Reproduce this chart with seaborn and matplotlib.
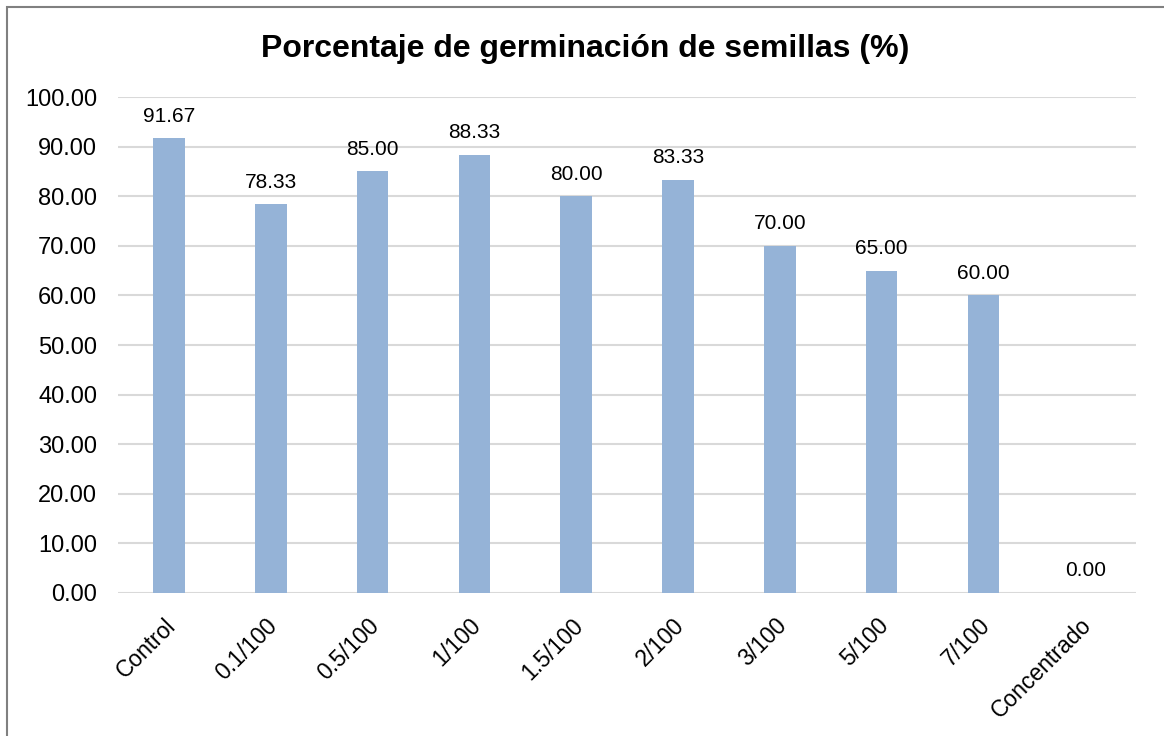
import matplotlib
matplotlib.use("Agg")
import matplotlib.pyplot as plt
import matplotlib.patches as patches
import matplotlib.transforms as mtransforms
import seaborn as sns
import pandas as pd

sns.set_style("white")
plt.rcParams["font.family"] = ["Liberation Sans", "DejaVu Sans"]
plt.rcParams["text.color"] = "black"
plt.rcParams["xtick.color"] = "black"
plt.rcParams["ytick.color"] = "black"

categories = ["Control", "0.1/100", "0.5/100", "1/100", "1.5/100", "2/100",
              "3/100", "5/100", "7/100", "Concentrado"]
germination = [91.67, 78.33, 85.00, 88.33, 80.00, 83.33, 70.00, 65.00, 60.00, 0.00]

df = pd.DataFrame({"Tratamiento": categories, "Germinacion": germination})

fig = plt.figure(figsize=(11.64, 7.36), dpi=100)
ax = fig.add_axes([0.1014, 0.1943, 0.8746, 0.6739])

sns.barplot(data=df, x="Tratamiento", y="Germinacion", color="#95B3D7",
            saturation=1, width=0.31, linewidth=0, ax=ax)

ax.set_ylim(0, 100)
ax.set_xlim(-0.5, len(categories) - 0.5)
ax.set_yticks(range(0, 101, 10))
ax.set_yticklabels([f"{v:.2f}" for v in range(0, 101, 10)], fontsize=17)
ax.yaxis.grid(True, color="#D9D9D9", linewidth=1.5)
ax.set_axisbelow(True)
for s in ["top", "right", "left", "bottom"]:
    ax.spines[s].set_visible(False)
ax.tick_params(axis="y", length=0, pad=15)
ax.set_xlabel("")
ax.set_ylabel("")

ax.set_xticks(range(len(categories)))
ax.set_xticklabels(categories, rotation=45, ha="right", va="top",
                   rotation_mode="anchor", fontsize=16.5)
ax.tick_params(axis="x", length=0, pad=15)
shift = mtransforms.ScaledTranslation(-5 / 100, 0, fig.dpi_scale_trans)
for lbl in ax.get_xticklabels():
    lbl.set_transform(lbl.get_transform() + shift)

ax.bar_label(ax.containers[0], labels=[f"{v:.2f}" for v in germination],
             padding=9, fontsize=15)

fig.text(0.503, 0.934, "Porcentaje de germinación de semillas (%)",
         ha="center", va="center", fontsize=23, fontweight="bold")

# outer border (only left and top edges visible in the reference)
fig.patches.append(patches.Rectangle((7 / 1164, -0.1), 1.2, 0.1 + 1 - 7 / 736,
                                     transform=fig.transFigure, fill=False,
                                     edgecolor="#808080", linewidth=1.5))

fig.savefig("out.png", dpi=100)
